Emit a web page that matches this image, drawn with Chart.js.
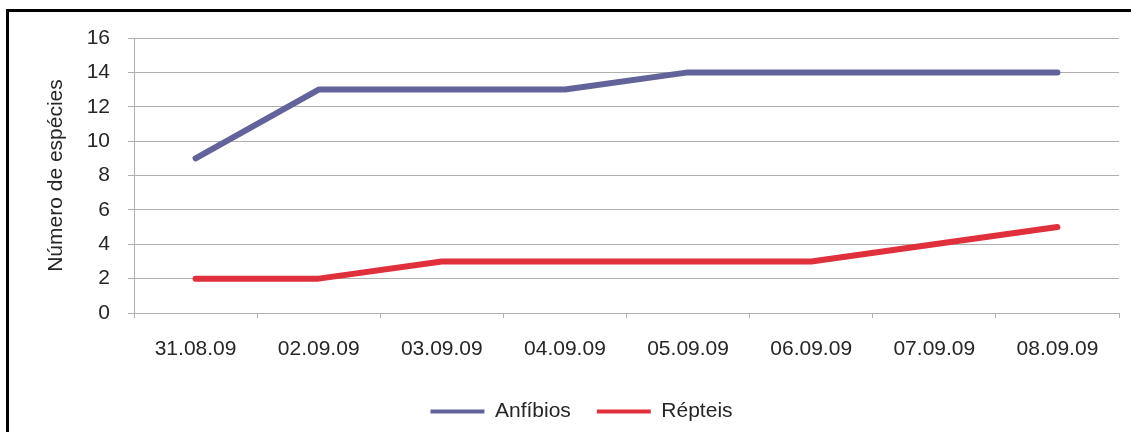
<!DOCTYPE html>
<html>
<head>
<meta charset="utf-8">
<script src="https://cdn.jsdelivr.net/npm/chart.js@4/dist/chart.umd.min.js"></script>
<style>
  html, body { margin: 0; padding: 0; background: #fff; }
  .frame {
    position: absolute; left: 6px; top: 9px; width: 1140px; height: 440px;
    border-top: 3px solid #000; border-left: 3px solid #000;
  }
  .wrap { position: absolute; left: 0; top: 0; width: 1131px; height: 432px; }
</style>
</head>
<body>
<div class="frame"></div>
<div class="wrap"><canvas id="chart"></canvas></div>
<script>
const dates = ["31.08.09", "02.09.09", "03.09.09", "04.09.09", "05.09.09", "06.09.09", "07.09.09", "08.09.09"];
const anfibios = [9, 13, 13, 13, 14, 14, 14, 14];
const repteis = [2, 2, 3, 3, 3, 3, 4, 5];
const yTitle = "Número de espécies";

const FONT = "'Liberation Sans', Arial, sans-serif";
const gridColor = "#b0b0b0";
const textColor = "#262626";

const ctx = document.getElementById("chart").getContext("2d");
new Chart(ctx, {
  type: "line",
  data: {
    labels: dates,
    datasets: [
      {
        label: "Anfíbios",
        data: anfibios,
        borderColor: "#62639b",
        backgroundColor: "#62639b",
        borderWidth: 6,
        borderCapStyle: "round",
        borderJoinStyle: "round",
        pointRadius: 0,
        tension: 0,
        fill: false,
      },
      {
        label: "Répteis",
        data: repteis,
        borderColor: "#e0303b",
        backgroundColor: "#e0303b",
        borderWidth: 6,
        borderCapStyle: "round",
        borderJoinStyle: "round",
        pointRadius: 0,
        tension: 0,
        fill: false,
      },
    ],
  },
  options: {
    responsive: true,
    maintainAspectRatio: false,
    animation: false,
    layout: {
      // left/right are uneven so the legend sits where the original has it
      padding: { top: 38, left: 44, right: 12, bottom: 0 },
    },
    plugins: {
      legend: {
        position: "bottom",
        labels: {
          font: { family: FONT, size: 21 },
          color: textColor,
          boxWidth: 54,
          boxHeight: 4,
          padding: 26,
          generateLabels: (chart) =>
            chart.data.datasets.map((ds, i) => ({
              text: ds.label,
              fillStyle: ds.borderColor,
              strokeStyle: ds.borderColor,
              lineWidth: 0,
              fontColor: textColor,
              hidden: false,
              datasetIndex: i,
            })),
        },
      },
      tooltip: { enabled: false },
    },
    scales: {
      x: {
        offset: true,
        grid: {
          offset: true,
          drawOnChartArea: false,
          drawTicks: true,
          tickLength: 5,
          color: gridColor,
        },
        border: { color: gridColor, width: 1 },
        ticks: {
          font: { family: FONT, size: 21 },
          color: textColor,
          padding: 19,
          maxRotation: 0,
          autoSkip: false,
        },
        afterFit: (scale) => { scale.height = 62; },
      },
      y: {
        min: 0,
        max: 16,
        grid: {
          color: gridColor,
          tickLength: 6,
        },
        border: { color: gridColor, width: 1 },
        ticks: {
          stepSize: 2,
          font: { family: FONT, size: 21 },
          color: textColor,
          padding: 18,
        },
        title: {
          display: true,
          text: yTitle,
          font: { family: FONT, size: 21 },
          color: textColor,
          padding: { top: 0, bottom: 0 },
        },
        afterFit: (scale) => { scale.width = 90; },
      },
    },
  },
});
</script>
</body>
</html>
